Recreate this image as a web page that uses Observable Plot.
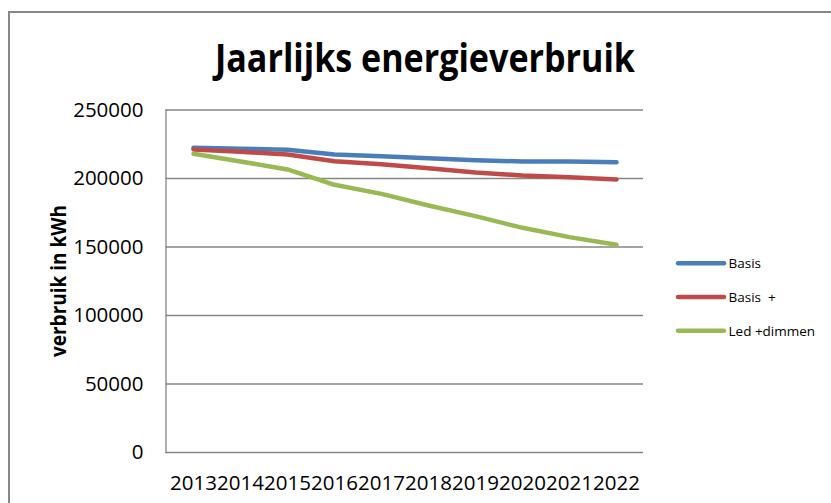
<!DOCTYPE html>
<html>
<head>
<meta charset="utf-8">
<script src="https://cdn.jsdelivr.net/npm/d3@7"></script>
<script src="https://cdn.jsdelivr.net/npm/@observablehq/plot@0.6"></script>
<style>
  html, body { margin: 0; padding: 0; background: #fff; }
  #wrap { position: relative; width: 831px; height: 503px; overflow: hidden; font-family: "Open Sans", sans-serif; }
  #border { position: absolute; left: 8px; top: 11px; width: 840px; height: 600px; border: 2px solid #878787; box-sizing: border-box; }
  #plot { position: absolute; left: 0; top: 0; }
  #overlay { position: absolute; left: 0; top: 0; pointer-events: none; }
</style>
</head>
<body>
<div id="wrap">
  <div id="border"></div>
  <div id="plot"></div>
  <svg id="overlay" width="831" height="503"></svg>
</div>
<script>
const years = ["2013", "2014", "2015", "2016", "2017", "2018", "2019", "2020", "2021", "2022"];
const basis = [222400, 221700, 221000, 217500, 216300, 214800, 213400, 212400, 212400, 211900];
const basisPlus = [221200, 219500, 217500, 212600, 210400, 207500, 204400, 202200, 201000, 199300];
const ledDimmen = [218000, 212400, 206600, 195400, 188800, 180300, 172500, 164000, 157200, 151600];
const seriesNames = ["Basis", "Basis  +", "Led +dimmen"];
const seriesColors = ["#4A7EBB", "#BE4B48", "#98B954"];
const yTicks = [0, 50000, 100000, 150000, 200000, 250000];
const titleText = "Jaarlijks energieverbruik";
const yLabel = "verbruik in kWh";

const seriesValues = [basis, basisPlus, ledDimmen];
const data = [];
seriesNames.forEach((name, si) => {
  years.forEach((yr, i) => data.push({series: name, year: yr, value: seriesValues[si][i]}));
});

const chart = Plot.plot({
  width: 831,
  height: 503,
  marginLeft: 165.5,
  marginRight: 188,
  marginTop: 109.5,
  marginBottom: 51,
  style: {fontFamily: "Open Sans, sans-serif", fontSize: "20.5px", color: "#000", background: "transparent"},
  x: {type: "point", domain: years, padding: 0.5, label: null},
  y: {domain: [0, 250000], label: null},
  color: {domain: seriesNames, range: seriesColors},
  marks: [
    Plot.ruleY(yTicks, {stroke: "#868686", strokeWidth: 1.3, strokeOpacity: 1}),
    Plot.frame({anchor: "left", stroke: "#868686", strokeWidth: 1.3}),
    Plot.axisY(yTicks, {tickSize: 0, tickPadding: 22.5, tickFormat: d3.format("d"), label: null}),
    Plot.axisX({tickSize: 0, tickPadding: 23, label: null}),
    Plot.line(data, {x: "year", y: "value", z: "series", stroke: "series", strokeWidth: 4.5, strokeLinejoin: "round", strokeLinecap: "round"})
  ]
});
document.getElementById("plot").appendChild(chart);

// Overlay: title, axis title, legend
const ov = d3.select("#overlay");
ov.append("text")
  .attr("x", 425).attr("y", 72.3)
  .attr("text-anchor", "middle")
  .attr("font-family", "Open Sans, sans-serif")
  .attr("font-weight", "bold")
  .attr("font-size", 39)
  .attr("textLength", 420)
  .attr("lengthAdjust", "spacingAndGlyphs")
  .attr("fill", "#000")
  .text(titleText);

ov.append("text")
  .attr("transform", "translate(65.5,281) rotate(-90)")
  .attr("text-anchor", "middle")
  .attr("font-family", "Open Sans, sans-serif")
  .attr("font-weight", "bold")
  .attr("font-size", 22)
  .attr("textLength", 152)
  .attr("lengthAdjust", "spacingAndGlyphs")
  .attr("fill", "#000")
  .text(yLabel);

const legendY = [263.3, 297, 330.7];
seriesNames.forEach((name, i) => {
  ov.append("line")
    .attr("x1", 678).attr("x2", 724)
    .attr("y1", legendY[i]).attr("y2", legendY[i])
    .attr("stroke", seriesColors[i]).attr("stroke-width", 4.5).attr("stroke-linecap", "round");
  ov.append("text")
    .attr("x", 728.5).attr("y", legendY[i])
    .attr("dy", "0.36em")
    .attr("font-family", "Open Sans, sans-serif")
    .attr("font-size", 13.5)
    .attr("fill", "#000")
    .attr("xml:space", "preserve")
    .style("white-space", "pre")
    .text(name);
});
</script>
</body>
</html>
